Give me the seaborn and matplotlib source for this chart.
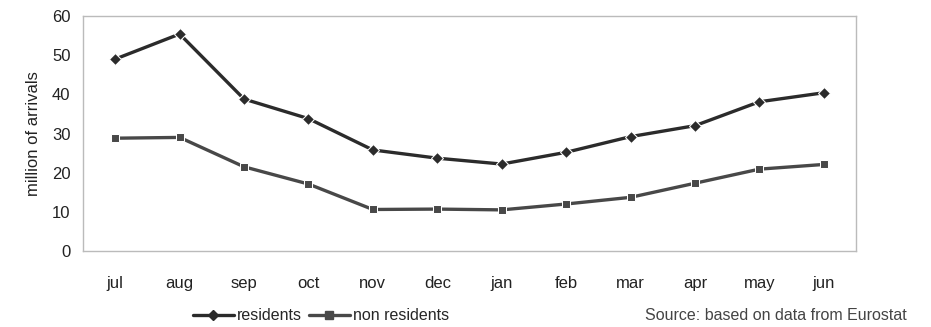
import matplotlib
matplotlib.use("Agg")
import matplotlib.pyplot as plt
import seaborn as sns
import pandas as pd
from matplotlib.lines import Line2D

months = ["jul", "aug", "sep", "oct", "nov", "dec", "jan", "feb", "mar", "apr", "may", "jun"]
residents = [49.0, 55.4, 38.8, 33.8, 25.8, 23.7, 22.2, 25.2, 29.2, 32.0, 38.1, 40.4]
non_residents = [28.8, 29.0, 21.5, 17.1, 10.6, 10.7, 10.5, 12.0, 13.7, 17.3, 20.9, 22.1]
yticks = [0, 10, 20, 30, 40, 50, 60]

sns.set_theme(style="white")
plt.rcParams["font.family"] = ["Liberation Sans", "DejaVu Sans"]

df = pd.DataFrame({
    "month": months * 2,
    "value": residents + non_residents,
    "series": ["residents"] * 12 + ["non residents"] * 12,
})

fig = plt.figure(figsize=(9.31, 3.27), dpi=100)
ax = fig.add_axes([83 / 931, 1 - 251 / 327, (856 - 83) / 931, (251 - 16) / 327])

sns.lineplot(data=df, x="month", y="value", hue="series", style="series",
             hue_order=["residents", "non residents"],
             palette={"residents": "#2b2b2b", "non residents": "#484848"},
             markers={"residents": "D", "non residents": "s"},
             dashes=False, markersize=6, linewidth=2.4, sort=False, ax=ax,
             legend=False)

ax.set_xlim(-0.5, 11.5)
ax.set_ylim(0, 60)
ax.set_yticks(yticks)
ax.set_yticklabels([str(t) for t in yticks], fontsize=12, color="#222222")
ax.set_xticks(range(len(months)))
ax.set_xticklabels(months, fontsize=12, color="#222222")
ax.tick_params(axis="x", pad=18, length=0)
ax.tick_params(axis="y", pad=9, length=0)
ax.set_xlabel("")
ax.set_ylabel("million of arrivals", fontsize=12, color="#222222", labelpad=8)
for s in ax.spines.values():
    s.set_color("#bbbbbb")
    s.set_linewidth(1.0)

handles = [
    Line2D([], [], color="#2b2b2b", marker="D", markersize=5, linewidth=2.4),
    Line2D([], [], color="#484848", marker="s", markersize=6, linewidth=2.4),
]
fig.legend(handles, ["residents", "non residents"], loc="center",
           bbox_to_anchor=(321 / 931, 1 - 316 / 327), ncol=2, frameon=False,
           fontsize=11.5, handlelength=2.6, handletextpad=0.2, columnspacing=0.4)

fig.text(907 / 931, 1 - 316 / 327, "Source: based on data from Eurostat",
         ha="right", va="center", fontsize=11.5, color="#444444")

fig.savefig("out.png", dpi=100)
